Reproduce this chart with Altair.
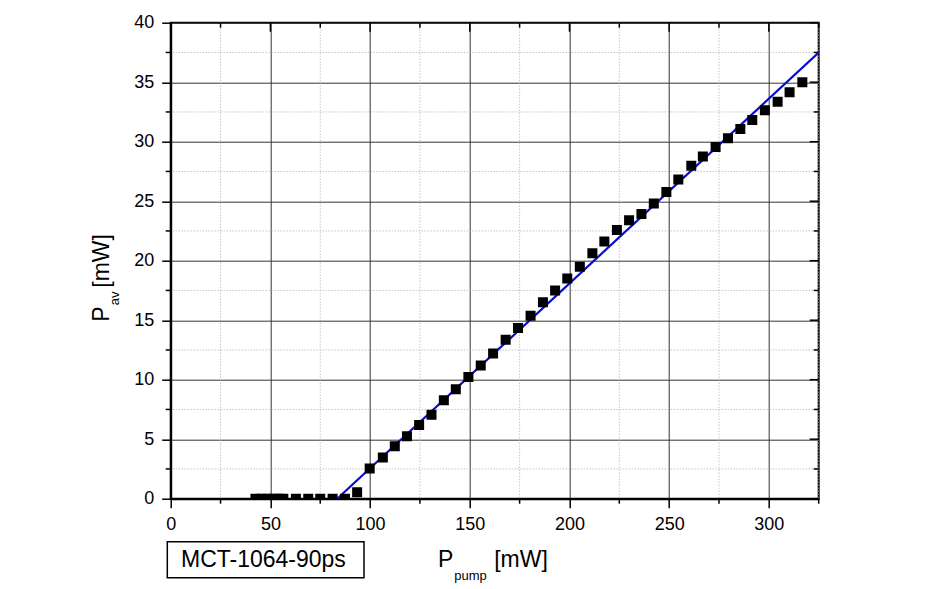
import altair as alt
import pandas as pd

# ---- data ----
pump = [42.5, 45.5, 48.5, 51.5, 54.0, 56.5, 62.8, 69.0, 75.0, 81.2, 87.4, 93.5,
        99.8, 106.4, 112.4, 118.5, 124.6, 130.8, 137.0, 143.0, 149.3, 155.5,
        161.7, 168.0, 174.2, 180.5, 186.7, 192.8, 198.9, 205.2, 211.5, 217.5,
        223.8, 229.9, 236.1, 242.3, 248.6, 254.6, 261.1, 266.9, 273.3, 279.5,
        285.7, 291.7, 298.0, 304.4, 310.4, 316.8]
pav = [0, 0, 0, 0, 0, 0, 0, 0, 0, 0, 0, 0.55,
       2.54, 3.47, 4.4, 5.25, 6.2, 7.06, 8.27, 9.2, 10.22, 11.2,
       12.2, 13.35, 14.35, 15.38, 16.5, 17.5, 18.5, 19.5, 20.62, 21.62,
       22.58, 23.4, 23.92, 24.8, 25.77, 26.82, 27.97, 28.75, 29.56, 30.3,
       31.06, 31.82, 32.65, 33.35, 34.16, 35.0]

fit_pump = [83.5, 325.0]
fit_pav = [0.0, 37.5]

x_major = [0, 50, 100, 150, 200, 250, 300]
x_minor = [25, 75, 125, 175, 225, 275, 325]
y_major = [0, 5, 10, 15, 20, 25, 30, 35, 40]
y_minor = [2.5, 7.5, 12.5, 17.5, 22.5, 27.5, 32.5, 37.5]

title_p = "P"
x_sub = "pump"
y_sub = "av"
unit = "[mW]"
box_label = "MCT-1064-90ps"

# ---- layout ----
W, H = 648, 476
FONT = "Liberation Sans"

pts = pd.DataFrame({"v": pump, "w": pav})
fit = pd.DataFrame({"v": fit_pump, "w": fit_pav})
xmaj = pd.DataFrame({"v": x_major})
xmin = pd.DataFrame({"v": x_minor})
ymaj = pd.DataFrame({"w": y_major})
ymin = pd.DataFrame({"w": y_minor})
one = pd.DataFrame({"a": [0]})

xs = alt.Scale(domain=[0, 325], nice=False, zero=False)
ys = alt.Scale(domain=[0, 40], nice=False, zero=False)
ax_x = alt.Axis(values=x_major, title=None, grid=True, format="d", labelFlush=False)
ax_y = alt.Axis(values=y_major, title=None, grid=True, format="d", labelFlush=False)

def X():
    return alt.X("v:Q", scale=xs, axis=ax_x)

def Y():
    return alt.Y("w:Q", scale=ys, axis=ax_y)

minor_grid_x = alt.Chart(xmin).mark_rule(color="#aaaaaa", strokeWidth=1, strokeDash=[1, 2]).encode(x=X())
minor_grid_y = alt.Chart(ymin).mark_rule(color="#aaaaaa", strokeWidth=1, strokeDash=[1, 2]).encode(y=Y())

tick_style = dict(color="black", strokeWidth=1.5)
bottom_minor = alt.Chart(xmin).mark_rule(**tick_style).encode(
    x=X(), y=alt.value(H), y2=alt.value(H + 5))
left_minor = alt.Chart(ymin).mark_rule(**tick_style).encode(
    y=Y(), x=alt.value(0), x2=alt.value(-5))
top_major = alt.Chart(xmaj).mark_rule(**tick_style).encode(
    x=X(), y=alt.value(0), y2=alt.value(9))
top_minor = alt.Chart(xmin).mark_rule(**tick_style).encode(
    x=X(), y=alt.value(0), y2=alt.value(5))
right_major = alt.Chart(ymaj).mark_rule(**tick_style).encode(
    y=Y(), x=alt.value(W), x2=alt.value(W - 9))
right_minor = alt.Chart(ymin).mark_rule(**tick_style).encode(
    y=Y(), x=alt.value(W), x2=alt.value(W - 5))

line = alt.Chart(fit).mark_line(color="#0a0ad2", strokeWidth=2.2, clip=True).encode(x=X(), y=Y())

points = alt.Chart(pts).mark_square(color="black", size=100, opacity=1, clip=True).encode(x=X(), y=Y())

def txt(s, x, y, size, angle=0):
    return alt.Chart(one).mark_text(
        text=s, font=FONT, fontSize=size, color="black", align="left",
        baseline="alphabetic", angle=angle).encode(x=alt.value(x), y=alt.value(y))

xt_p = txt(title_p, 267.3, 544.3, 23)
xt_sub = txt(x_sub, 283.5, 557.3, 13)
xt_unit = txt(unit, 323.5, 544.3, 23)
yt_p = txt(title_p, -61.7, 299.1, 23, 270)
yt_sub = txt(y_sub, -52.2, 282.5, 13, 270)
yt_unit = txt(unit, -61.7, 265.0, 23, 270)

box = alt.Chart(one).mark_rect(fill="white", stroke="black", strokeWidth=1.5).encode(
    x=alt.value(-3.4), x2=alt.value(193.3), y=alt.value(519), y2=alt.value(555))
box_text = txt(box_label, 10.3, 544, 23)

chart = alt.layer(
    minor_grid_x, minor_grid_y,
    bottom_minor, left_minor, top_major, top_minor, right_major, right_minor,
    line, points,
    xt_p, xt_sub, xt_unit, yt_p, yt_sub, yt_unit,
    box, box_text,
).properties(
    width=W, height=H,
    autosize=alt.AutoSizeParams(type="none"),
    padding={"left": 162.7, "top": 14.7, "right": 110, "bottom": 88},
    background="white",
).configure_view(
    stroke="black", strokeWidth=2
).configure_axis(
    domainColor="black", domainWidth=2,
    tickColor="black", tickWidth=1.5, tickSize=9,
    labelPadding=8, labelFont=FONT, labelFontSize=18, labelColor="black",
    gridColor="#333333", gridWidth=1,
)

chart.save("out.html", embed_options={"renderer": "svg", "actions": False})
